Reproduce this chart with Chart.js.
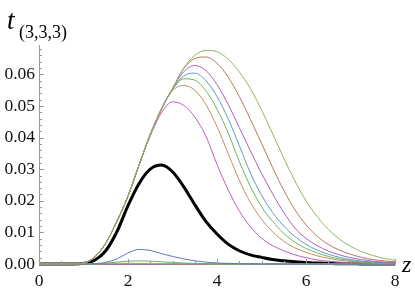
<!DOCTYPE html>
<html>
<head>
<meta charset="utf-8">
<script src="https://cdn.jsdelivr.net/npm/chart.js@4.4.1/dist/chart.umd.min.js"></script>
<style>
html,body{margin:0;padding:0;background:#fff;}
canvas{display:block;}
</style>
</head>
<body>
<canvas id="c" width="415" height="293"></canvas>
<script>
// z grid (x values)
const zValues = [0,0.25,0.5,0.75,1,1.25,1.5,1.75,2,2.25,2.5,2.75,3,3.25,3.5,3.75,4,4.25,4.5,4.75,5,5.25,5.5,5.75,6,6.25,6.5,6.75,7,7.25,7.5,7.75,8];

// series values
const s0 = [0,0,0,0,0,0,0.00001,0.00002,0.00003,0.00003,0.00002,0.00001,0,0,0,0,0,0,0,0,0,0,0,0,0,0,0,0,0,0,0,0,0];
const s1 = [0,0,0,0,0,0.00001,0.00003,0.00006,0.00008,0.00008,0.00006,0.00004,0.00002,0.00001,0,0,0,0,0,0,0,0,0,0,0,0,0,0,0,0,0,0,0];
const s2 = [0,0,0,0,0,0.00002,0.0001,0.0002,0.00022,0.0002,0.00015,0.0001,0.00007,0.00004,0.00002,0.00001,0,0,0,0,0,0,0,0,0,0,0,0,0,0,0,0,0];
const s3 = [0,0,0,0,0,0.00002,0.0002,0.0006,0.0009,0.001,0.0009,0.0007,0.0005,0.0003,0.0002,0.0001,0.00005,0,0,0,0,0,0,0,0,0,0,0,0,0,0,0,0];
const s4 = [0,0,0,0,0.00002,0.0001,0.0005,0.0016,0.0035,0.0046,0.0043,0.0033,0.0024,0.0016,0.001,0.0006,0.0003,0.0002,0.0001,0.00005,0,0,0,0,0,0,0,0,0,0,0,0,0];
const s5 = [0,0,0,0.00002,0.0003,0.0022,0.0066,0.0135,0.0215,0.0314,0.0405,0.0478,0.0513,0.0502,0.0465,0.0405,0.0315,0.0235,0.0168,0.0118,0.0082,0.0058,0.0042,0.0029,0.002,0.0013,0.0009,0.0006,0.0004,0.0003,0.0002,0.0001,0.0001];
const s6 = [0,0,0,0.00002,0.0003,0.0022,0.0066,0.0135,0.0215,0.0314,0.041,0.049,0.0548,0.0565,0.055,0.0505,0.0435,0.035,0.0265,0.0195,0.0142,0.0102,0.0072,0.0051,0.0037,0.0026,0.0018,0.0012,0.0008,0.0005,0.0003,0.0002,0.0001];
const s7 = [0,0,0,0.00002,0.0003,0.0022,0.0066,0.0135,0.0215,0.0314,0.041,0.049,0.0552,0.0586,0.0582,0.0548,0.049,0.0415,0.0325,0.0245,0.0182,0.0135,0.0097,0.0069,0.0049,0.0035,0.0024,0.0016,0.0011,0.0007,0.0005,0.0003,0.0002];
const s8 = [0,0,0,0.00002,0.0003,0.0022,0.0066,0.0135,0.0215,0.0314,0.041,0.049,0.0553,0.0595,0.0604,0.058,0.053,0.046,0.0375,0.0288,0.0218,0.0163,0.012,0.0087,0.0062,0.0044,0.0031,0.0021,0.0014,0.0009,0.0006,0.0004,0.0002];
const s9 = [0,0,0,0.00002,0.0003,0.0022,0.0066,0.0135,0.0215,0.0314,0.041,0.049,0.0555,0.0608,0.0628,0.0612,0.0568,0.0505,0.0432,0.0358,0.0287,0.0222,0.0163,0.0114,0.0081,0.0058,0.0041,0.0029,0.002,0.0014,0.0009,0.0006,0.0004];
const s10 = [0,0,0,0.00002,0.0003,0.0022,0.0066,0.0135,0.0215,0.0314,0.041,0.049,0.0555,0.0618,0.065,0.0655,0.0635,0.0592,0.0530,0.0458,0.0382,0.0305,0.0233,0.0172,0.0124,0.0088,0.0062,0.0044,0.0031,0.0021,0.0014,0.001,0.0007];
const s11 = [0,0,0,0.00002,0.0003,0.0022,0.0066,0.0135,0.0215,0.0314,0.041,0.049,0.0555,0.062,0.066,0.0676,0.0672,0.0648,0.0608,0.0555,0.0488,0.0412,0.0335,0.0263,0.02,0.015,0.011,0.0079,0.0056,0.0039,0.0027,0.0018,0.0012];
const sBlack = [0,0,0,0.00001,0.0002,0.0012,0.0042,0.0102,0.0185,0.0255,0.03,0.0313,0.0292,0.0245,0.0188,0.0135,0.0095,0.0063,0.0042,0.0029,0.0021,0.0014,0.001,0.0007,0.0005,0.0003,0.0002,0.0001,0.0001,0,0,0,0];

const xTickLabels = ['0','2','4','6','8'];
const yTickLabels = ['0.00','0.01','0.02','0.03','0.04','0.05','0.06'];

const colors = ['#5a5ac0','#c05a98','#b8a85a','#5ab872','#5a7ac0','#c05ab8','#c0905a','#66b85a','#5b9bc0','#a860c0','#c07060','#8cb860'];
const series = [s0,s1,s2,s3,s4,s5,s6,s7,s8,s9,s10,s11];

function pts(arr){ return zValues.map((z,i)=>({x:z,y:arr[i]})); }

const datasets = [];
for (let i = series.length-1; i >= 0; i--) {
  datasets.push({data: pts(series[i]), borderColor: colors[i], borderWidth: 1, pointRadius: 0, cubicInterpolationMode: 'monotone', fill: false, clip: 3});
}
datasets.push({data: pts(sBlack), borderColor: '#000', borderWidth: 3, pointRadius: 0, cubicInterpolationMode: 'monotone', fill: false, clip: 4});

const axisColor = '#999';
const serif = '"Liberation Serif", "DejaVu Serif", serif';

const tickPlugin = {
  id: 'mmaTicks',
  afterDraw(chart) {
    const ctx = chart.ctx;
    const xs = chart.scales.x, ys = chart.scales.y;
    const ca = chart.chartArea;
    ctx.save();
    ctx.strokeStyle = axisColor;
    ctx.lineWidth = 1;
    ctx.beginPath();
    for (let v = 0; v <= 8.0001; v += 0.5) {
      const px = Math.round(xs.getPixelForValue(v)) + 0.5;
      const major = Math.abs(v/2 - Math.round(v/2)) < 1e-6;
      const len = major ? 5 : 3;
      ctx.moveTo(px, ca.bottom);
      ctx.lineTo(px, ca.bottom - len);
    }
    for (let k = 0; k <= 34; k++) {
      const v = k*0.002;
      if (v > ys.max) break;
      const py = Math.round(ys.getPixelForValue(v)) + 0.5;
      const len = (k % 5 === 0) ? 5 : 3;
      ctx.moveTo(ca.left, py);
      ctx.lineTo(ca.left + len, py);
    }
    ctx.stroke();
    // axis labels
    ctx.fillStyle = '#000';
    ctx.textBaseline = 'alphabetic';
    ctx.textAlign = 'left';
    ctx.font = 'italic 27px ' + serif;
    ctx.fillText('t', 7, 29);
    ctx.font = '18px ' + serif;
    ctx.fillText('(3,3,3)', 19, 38);
    ctx.font = 'italic 24px ' + serif;
    ctx.fillText('z', 402, 272);
    ctx.restore();
  }
};

new Chart(document.getElementById('c'), {
  type: 'line',
  data: { datasets },
  options: {
    responsive: false,
    animation: false,
    devicePixelRatio: 1,
    layout: { padding: { left: 0, right: 20, top: 45, bottom: 0 } },
    plugins: { legend: { display: false }, tooltip: { enabled: false } },
    scales: {
      x: {
        type: 'linear', min: 0, max: 8,
        afterFit(s) { s.height = 29; },
        border: { display: true, color: axisColor, width: 1 },
        grid: { display: true, drawOnChartArea: false, drawTicks: false },
        ticks: {
          stepSize: 2, includeBounds: false, padding: 7, color: '#111',
          font: { family: serif, size: 17.5 },
          maxRotation: 0,
          callback: (v) => { const i = xTickLabels.indexOf(String(v)); return i >= 0 ? xTickLabels[i] : ''; }
        }
      },
      y: {
        type: 'linear', min: 0, max: 0.0693,
        afterFit(s) { s.width = 39; },
        border: { display: true, color: axisColor, width: 1 },
        grid: { display: true, drawOnChartArea: false, drawTicks: false },
        ticks: {
          stepSize: 0.01, includeBounds: false, padding: 4, color: '#111',
          font: { family: serif, size: 17.5 },
          callback: (v) => { const k = Math.round(v*100); return (Math.abs(v*100-k) < 1e-6 && k < yTickLabels.length) ? yTickLabels[k] : ''; }
        }
      }
    }
  },
  plugins: [tickPlugin]
});
</script>
</body>
</html>
